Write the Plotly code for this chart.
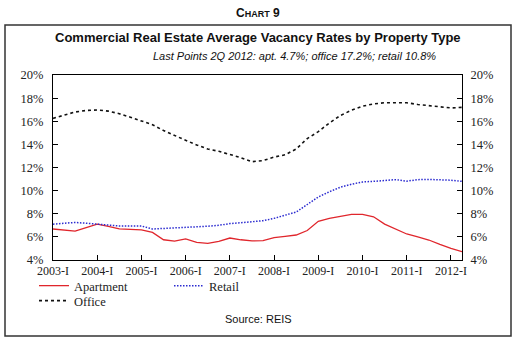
import plotly.graph_objects as go

# ---------------- data ----------------
quarters = list(range(38))  # 2003-I .. 2012-II
tick_pos = [0, 4, 8, 12, 16, 20, 24, 28, 32, 36]
tick_labels = ["2003-I", "2004-I", "2005-I", "2006-I", "2007-I",
               "2008-I", "2009-I", "2010-I", "2011-I", "2012-I"]

apartment = [6.68, 6.60, 6.50, 6.80, 7.10, 6.90, 6.70, 6.65, 6.60, 6.38,
             5.75, 5.64, 5.82, 5.53, 5.44, 5.62, 5.90, 5.75, 5.65, 5.67,
             5.93, 6.05, 6.16, 6.55, 7.35, 7.60, 7.80, 7.94, 7.94, 7.74,
             7.10, 6.65, 6.25, 6.00, 5.73, 5.35, 5.00, 4.72]
retail = [7.10, 7.18, 7.25, 7.18, 7.10, 7.00, 6.94, 6.94, 6.94, 6.68,
          6.72, 6.77, 6.82, 6.87, 6.92, 7.00, 7.15, 7.22, 7.28, 7.40,
          7.60, 7.88, 8.15, 8.80, 9.45, 9.90, 10.30, 10.55, 10.75, 10.80,
          10.88, 10.95, 10.82, 10.95, 10.97, 10.95, 10.90, 10.80]
office = [16.25, 16.55, 16.80, 16.93, 16.98, 16.88, 16.65, 16.35, 16.05, 15.70,
          15.20, 14.75, 14.35, 13.95, 13.60, 13.40, 13.15, 12.85, 12.50, 12.60,
          12.90, 13.10, 13.60, 14.50, 15.10, 15.85, 16.50, 16.95, 17.30, 17.50,
          17.60, 17.62, 17.60, 17.45, 17.35, 17.25, 17.15, 17.20]

# ---------------- layout helpers ----------------
W, H = 516, 341
L, R, T, B = 53, 462, 75, 260


def px(x):
    return (x - L) / (R - L)


def py(y):
    return (B - y) / (B - T)


SERIF = "Liberation Serif"
SANS = "Liberation Sans"

fig = go.Figure()
fig.add_trace(go.Scatter(x=quarters, y=apartment, name="Apartment", mode="lines",
                         line=dict(color="#e0262c", width=1.3), legend="legend"))
fig.add_trace(go.Scatter(x=quarters, y=retail, name="Retail", mode="lines",
                         line=dict(color="#2b2bd0", width=1.5, dash="1.5px,1.5px"), legend="legend"))
fig.add_trace(go.Scatter(x=quarters, y=office, name="Office", mode="lines",
                         line=dict(color="#111111", width=1.6, dash="3px,3px"), legend="legend2"))
# invisible trace to activate the right-hand axis
fig.add_trace(go.Scatter(x=quarters, y=office, yaxis="y2", mode="lines",
                         line=dict(width=0), opacity=0, showlegend=False, hoverinfo="skip"))

ytickfont = dict(family=SERIF, size=12.5, color="#222")
xtickfont = dict(family=SERIF, size=12, color="#222")

fig.update_layout(
    width=W, height=H,
    margin=dict(l=L, r=W - R, t=T, b=H - B),
    paper_bgcolor="white", plot_bgcolor="white",
    showlegend=True,
    xaxis=dict(range=[0, 37], tickvals=tick_pos, ticktext=tick_labels,
               ticks="inside", ticklen=5, tickcolor="#000", showgrid=False,
               zeroline=False, showline=True, linecolor="#000", linewidth=1,
               mirror=True, tickfont=xtickfont, ticklabelstandoff=0),
    yaxis=dict(range=[4, 20], dtick=2, ticksuffix="%", ticks="inside", ticklen=5,
               tickcolor="#000", showgrid=False, zeroline=False, showline=True,
               linecolor="#000", linewidth=1, mirror=True, tickfont=ytickfont,
               ticklabelstandoff=6),
    yaxis2=dict(range=[4, 20], dtick=2, ticksuffix="%", ticks="inside", ticklen=5,
                tickcolor="#000", showgrid=False, zeroline=False, showline=True,
                linecolor="#000", linewidth=1, overlaying="y", side="right",
                tickfont=ytickfont, ticklabelstandoff=5),
    legend=dict(orientation="h", x=px(34), y=py(286), xanchor="left", yanchor="middle",
                entrywidth=90, entrywidthmode="pixels",
                font=dict(family=SERIF, size=12.5, color="#222"),
                bgcolor="rgba(0,0,0,0)", tracegroupgap=0),
    legend2=dict(orientation="h", x=px(34), y=py(301), xanchor="left", yanchor="middle",
                 font=dict(family=SERIF, size=12.5, color="#222"),
                 bgcolor="rgba(0,0,0,0)"),
)

# outer frame
fig.add_shape(type="rect", xref="paper", yref="paper",
              x0=px(5), x1=px(511), y0=py(336), y1=py(25),
              line=dict(color="#333", width=1.5), fillcolor="rgba(0,0,0,0)")

ann = [
    dict(text="<b>C<span style='font-size:9px'>HART</span> 9</b>", x=258, y=13,
         font=dict(family=SANS, size=12, color="#111")),
    dict(text="<b>Commercial Real Estate Average Vacancy Rates by Property Type</b>",
         x=258, y=37, font=dict(family=SANS, size=13, color="#111")),
    dict(text="<i>Last Points 2Q 2012: apt. 4.7%; office 17.2%; retail 10.8%</i>",
         x=294, y=56, font=dict(family=SANS, size=11, color="#111")),
    dict(text="Source: REIS", x=258, y=319, font=dict(family=SANS, size=11, color="#111")),
]
for a in ann:
    fig.add_annotation(text=a["text"], x=px(a["x"]), y=py(a["y"]), xref="paper", yref="paper",
                       xanchor="center", yanchor="middle", showarrow=False, font=a["font"])

fig.write_html("out.html")
